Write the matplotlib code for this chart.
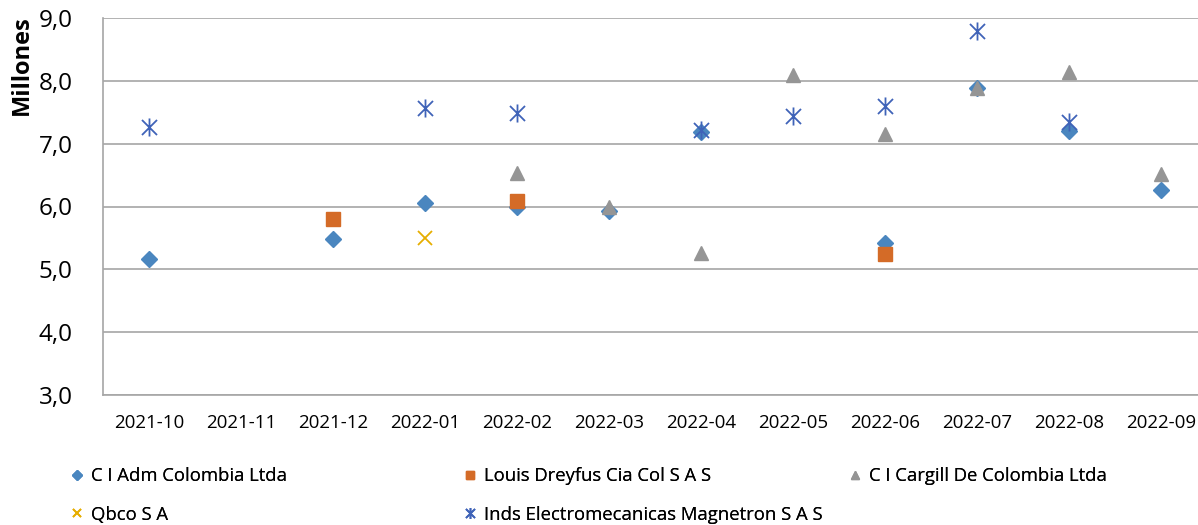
import matplotlib
matplotlib.use("Agg")
import matplotlib.pyplot as plt
import numpy as np
from matplotlib.path import Path

plt.rcParams['font.family'] = ['Open Sans', 'DejaVu Sans']

months = ["2021-10", "2021-11", "2021-12", "2022-01", "2022-02", "2022-03",
          "2022-04", "2022-05", "2022-06", "2022-07", "2022-08", "2022-09"]

nan = np.nan
adm = [5.16, nan, 5.48, 6.05, 5.99, 5.93, 7.18, nan, 5.42, 7.88, 7.20, 6.26]
dreyfus = [nan, nan, 5.80, nan, 6.09, nan, nan, nan, 5.24, nan, nan, nan]
cargill = [nan, nan, nan, nan, 6.53, 5.99, 5.26, 8.09, 7.15, 7.88, 8.14, 6.52]
qbco = [nan, nan, nan, 5.50, nan, nan, nan, nan, nan, nan, nan, nan]
magnetron = [7.27, nan, nan, 7.57, 7.49, nan, 7.22, 7.44, 7.60, 8.79, 7.34, nan]

series_names = ["C I Adm Colombia Ltda", "Louis Dreyfus Cia Col S A S",
                "C I Cargill De Colombia Ltda", "Qbco S A",
                "Inds Electromecanicas Magnetron S A S"]

yticks = [3.0, 4.0, 5.0, 6.0, 7.0, 8.0, 9.0]

# star marker (x with a vertical bar), like Excel's "star"
star = Path([(-0.5, -0.5), (0.5, 0.5), (-0.5, 0.5), (0.5, -0.5), (0, -0.6), (0, 0.6)],
            [Path.MOVETO, Path.LINETO, Path.MOVETO, Path.LINETO, Path.MOVETO, Path.LINETO])

fig = plt.figure(figsize=(11.98, 5.25), dpi=100)
ax = fig.add_axes([103/1198, 1 - 395/525, 1104/1198, (395-18)/525])

x = np.arange(len(months))
h_adm, = ax.plot(x, adm, linestyle='none', marker='D', ms=8.3, color='#4a86bf', label=series_names[0], zorder=3)
h_dre, = ax.plot(x, dreyfus, linestyle='none', marker='s', ms=10, color='#d46b27', label=series_names[1], zorder=3)
h_car, = ax.plot(x, cargill, linestyle='none', marker='^', ms=10.5, color='#959595', label=series_names[2], zorder=4)
h_qb, = ax.plot(x, qbco, linestyle='none', marker='x', ms=10, mew=1.3, color='#e6ae00', label=series_names[3], zorder=3)
h_mag, = ax.plot(x, magnetron, linestyle='none', marker=star, ms=13, mew=1.3, color='#3f63b8',
                 markerfacecolor='none', label=series_names[4], zorder=3)

ax.set_xlim(-0.5, len(months) - 0.5)
ax.set_ylim(3.0, 9.0)
ax.set_yticks(yticks)
ax.set_yticklabels([f"{v:.1f}".replace('.', ',') for v in yticks], fontsize=17.5)
ax.set_xticks(x)
ax.set_xticklabels(months, fontsize=13.5)
ax.tick_params(axis='both', length=0)
ax.tick_params(axis='y', pad=22)
ax.tick_params(axis='x', pad=14)
ax.yaxis.grid(True, color='#a6a6a6', linewidth=1.2)
ax.set_axisbelow(True)
for s in ['top', 'right']:
    ax.spines[s].set_visible(False)
for s in ['left', 'bottom']:
    ax.spines[s].set_color('#a6a6a6')
    ax.spines[s].set_linewidth(1.2)

fig.text(22/1198, 1 - 65/525, "Millones", rotation=90, fontsize=17, fontweight='bold',
         ha='center', va='center')

cols = [([h_adm, h_qb], 71), ([h_dre, h_mag], 464), ([h_car], 849)]
for hs, xpix in cols:
    leg = fig.legend(hs, [h.get_label() for h in hs], loc='upper left',
                     bbox_to_anchor=(xpix/1198, 1 - 467/525), frameon=False, fontsize=13.3,
                     markerscale=0.6, handlelength=0.6, handletextpad=0.5, labelspacing=1.12,
                     borderpad=0, borderaxespad=0)
    fig.add_artist(leg)

fig.savefig("out.png", dpi=100)
